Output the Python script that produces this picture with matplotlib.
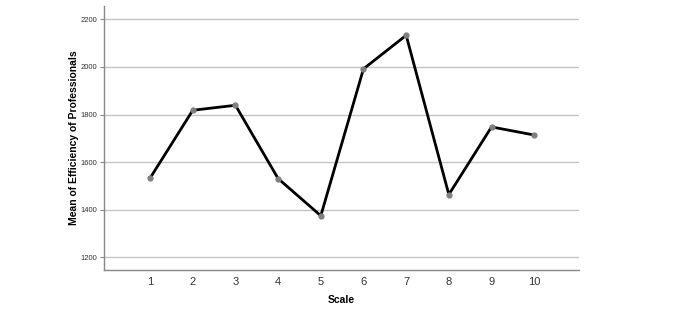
import matplotlib
matplotlib.use('Agg')
import matplotlib.pyplot as plt

# Data
scale = [1, 2, 3, 4, 5, 6, 7, 8, 9, 10]
efficiency = [1533, 1818, 1839, 1531, 1375, 1992, 2133, 1464, 1748, 1714]
y_ticks = [1200, 1400, 1600, 1800, 2000, 2200]

plt.rcParams['font.family'] = ['Liberation Sans', 'DejaVu Sans']

fig = plt.figure(figsize=(6.85, 3.15), dpi=100)
ax = fig.add_axes([0.1518, 0.1429, 0.6935, 0.838])

ax.set_axisbelow(True)
ax.yaxis.grid(True, color='#c4c4c4', linewidth=1.0)
ax.plot(scale, efficiency, color='black', linewidth=2.0, zorder=3)
ax.plot(scale, efficiency, 'o', color='#808080', markersize=3.5, zorder=4)

ax.set_xlim(-0.08, 11.05)
ax.set_ylim(1147, 2256)
ax.set_xticks(scale)
ax.set_xticklabels([str(s) for s in scale])
ax.set_yticks(y_ticks)
ax.tick_params(axis='x', length=0, labelsize=8, colors='#333333', pad=5)
ax.tick_params(axis='y', length=3, width=0.8, labelsize=5.5, colors='#333333', pad=2)
ax.tick_params(axis='y', color='#888888')

for s in ['top', 'right']:
    ax.spines[s].set_visible(False)
for s in ['left', 'bottom']:
    ax.spines[s].set_color('#888888')
    ax.spines[s].set_linewidth(1.0)

ax.set_xlabel('Scale', fontsize=7.5, fontweight='bold', labelpad=6)
ax.set_ylabel('Mean of Efficiency of Professionals', fontsize=7.5, fontweight='bold', labelpad=1)

plt.savefig('out.png', dpi=100)
